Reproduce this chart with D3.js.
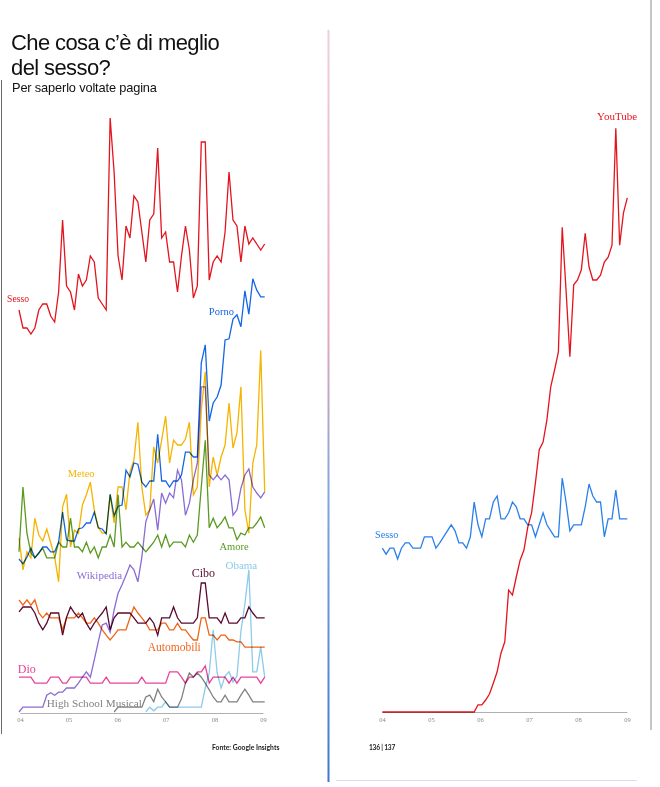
<!DOCTYPE html>
<html>
<head>
<meta charset="utf-8">
<script src="https://cdn.jsdelivr.net/npm/d3@7/dist/d3.min.js"></script>
<style>
    body { margin: 0; background: #fff; }
    svg { display: block; }
    .series { fill: none; stroke-width: 1.3; stroke-linejoin: miter; mix-blend-mode: multiply; }
    .label { font-family: "Liberation Serif", "DejaVu Serif", serif; }
    .axis text { font-family: "Liberation Serif", serif; font-size: 6.5px; fill: #8a8a8a; }
    .axis path { stroke: #b0b0b0; stroke-width: 1; }
</style>
</head>
<body>
<div id="chart"></div>
<script>
// Left page: monthly search interest, Jan 2004 - early 2009 (Google Insights, 0-100)
const sessoVals = [67,64,64,63,64,67,68,68,66,65,70,82,71,70,67,73,71,72,76,75,69,68,67,99,90,76,72,81,79,86,85,80,75,82,83,94,79,80,75,75,70,76,81,77,69,71,95,95,72,75,76,75,80,90,82,81,75,81,78,79,78,77,78];
const pornoVals = [25.5,24.7,25.8,27.3,25.7,26.5,27.5,27.5,26.7,26.7,28.3,33.3,28.7,28.5,28.5,30.5,30.7,31.5,31.5,33.3,30.7,30.5,29.7,36.3,32.7,34.3,34.5,40.3,39.2,41.5,41.3,38.3,37.5,38.5,38.5,46.3,38.5,38.5,37.5,38.5,38.5,39.5,43.3,43.3,42.5,42.5,58.2,61.2,48.5,51.5,52.5,54.5,62,62.2,65.5,66.2,64.2,70.2,66.3,72.2,70.3,69.2,69.2];
const meteoVals = [29,23.7,26.7,25.7,32.3,29.5,28.5,30.5,28.2,25.8,21.7,34.2,36.3,27.5,30.3,29.8,34.5,36.2,38.3,33.7,30.8,29.8,29.8,36.2,31.5,37.5,37.5,33.7,40,42,48.3,37.5,32.8,33.7,44.2,41.5,45.3,49.3,41.5,45.3,44.5,44.5,45.5,48.3,36.2,37.5,50.3,56.7,37.5,42.5,39.5,42.5,44.5,51.5,44,46.5,54.2,33.7,29.8,41.5,44.5,60.3,36.7];
const amoreVals = [26.7,37.5,29.8,26.5,25.7,26.5,27.3,25.7,25.7,25.7,28.3,27.5,27.5,32.3,27.5,27.5,26.7,28.3,26.5,27.5,25.7,27.5,27.5,29.5,27.5,36.2,27.5,28.3,27.5,27.5,28.3,27.5,26.7,27.5,28.3,29.5,27.5,29.5,27.5,28.3,28.3,28.3,27.5,29.5,28.3,29.5,37.5,45.3,30.7,32.3,30.7,31.5,32.5,30.7,30.7,28.7,29.8,29.5,30.7,30.7,31.5,32.5,30.7];
const wikiVals = [0,0.8,0.8,0.8,0.8,0.8,0.8,2.8,3.2,2.8,3.3,3.3,4,4,4,4.8,5.8,6.7,5.8,8.7,11.7,14.5,14.8,13.3,17,19.8,21.2,22.8,24.5,23.7,21.7,25.8,31.7,33.7,35.5,30.3,36.5,34.8,36.5,35.7,40.3,38.7,32.8,34.8,38.7,41.5,54.2,54.2,39.5,38.7,39.5,38.7,39.5,38.7,32.8,33.7,37.3,39.5,40.5,37.5,36.5,35.7,36.7];
const ciboVals = [16.7,17.5,17.5,17.5,16.5,14.8,13.7,14.8,16.5,16.5,16.5,12.8,15.8,17.5,16.5,15.7,16.5,14.8,13.7,14.8,15.7,16.5,17.5,13.7,15.7,16.5,16.5,16.5,16.5,15.7,14.8,14.8,14.8,15.7,14.8,12.8,15.7,15.7,15.7,17.5,15.7,14.8,14.8,14.8,14.8,15.7,21.5,21.5,15.7,15.7,15.7,14.8,16.5,14.8,14.8,14.8,15.7,15.7,17.5,16.5,15.7,15.7,15.7];
const autoVals = [18.7,17.8,18.7,17.8,18.7,16.5,15.7,16.5,15.7,15.7,15.7,13.7,15.7,15.7,15.7,16.5,15.7,14.8,14.8,15.7,14.8,13.7,12.8,12,12.8,13.7,13.7,13.7,15.7,17.5,16.5,15.7,14.8,13.7,13.7,13.7,14.8,14.8,13.7,13.7,14.8,13.7,13.7,12.8,12,12,15.7,15.7,12.8,12.8,12,12.8,12.8,12,12,11.7,11.7,10.8,10.8,10.8,10.8,10.8,10.8];
const dioVals = [5.8,5.8,5.8,5.8,4.8,4.8,4.8,4.8,5.8,5.8,5.8,4.8,4.8,5.8,5.8,5.8,5.8,5.8,4.8,4.8,4.8,4.8,5.8,4.8,4.8,4.8,4.8,4.8,4.8,4.8,4.8,5.8,4.8,4.8,4.8,4.8,4.8,4.8,6.7,6.7,6.7,5.8,4.8,5.8,5.8,6.7,6.7,7.7,4.8,5.8,5.8,5.8,5.8,4.8,5.8,4.8,5.8,5.8,5.8,5.8,5.8,4.8,5.8];
const hsmVals = [null,null,null,null,null,null,null,null,null,null,null,null,null,null,null,null,null,null,null,null,null,null,null,null,
    0,0.8,0.8,0.8,0.8,0.8,0.8,0.8,2.5,2.8,1.7,3.8,2.5,1.7,0.8,0.8,0.8,2.2,4.8,6.5,5.8,6.5,5.8,4.8,3.7,2.5,1.7,1.7,2.8,1.7,1.7,1.7,2.8,3.8,2.8,1.7,1.7,1.7,1.7];
const obamaVals = [null,null,null,null,null,null,null,null,null,null,null,null,null,null,null,null,null,null,null,null,null,null,null,null,null,null,null,null,null,null,null,null,
    0,0.8,0.2,0.8,0.8,1.7,0.8,0.8,0.8,0.8,0.8,0.8,0.8,0.8,0.8,4,6.5,13.7,6.5,4,6,6.7,5,6,13.5,18,23.7,6.7,6.7,10.8,5.8];

// Right page: YouTube vs Sesso
const ytSessoVals = [27.3,26.3,27.3,27.3,25.5,27.3,28.2,28.2,27.3,27.3,27.3,29.2,29.2,29.2,27.3,28.2,29.2,30.2,31.2,30.2,28.2,28.2,27.3,29.2,35,31.2,29.2,32.2,32.2,35,36,32.2,32.2,33.2,35,34.2,32.2,32.2,31.2,31.2,29.2,31.2,33.2,31.2,30.2,29.2,29.2,39,35,30.2,31.2,31.2,31.2,34.2,38,36,35,35,29.2,32.2,32.2,37,32.2,32.2,32.2];
const youtubeVals = [0,0,0,0,0,0,0,0,0,0,0,0,0,0,0,0,0,0,0,0,0,0,0,0,0,
    1.2,1.2,2,3,4.8,6.7,9.8,11.7,20.3,19.5,22.5,25.3,27,30.8,33.2,38.2,43.7,45,48.7,54.2,57,60,80.8,70.3,59.2,71.2,72,73.7,79.8,74.2,72,72,72.8,75,75.8,77.8,97.3,77.8,83.2,85.7];

// Year ticks
const years = [2004, 2005, 2006, 2007, 2008, 2009];
const yearLabels = ['04', '05', '06', '07', '08', '09'];

const W = 660, H = 787;

const svg = d3.select('#chart')
    .append('svg')
    .attr('width', W)
    .attr('height', H);

// Page scan details: spine, edges
const spineGrad = svg.append('defs').append('linearGradient')
    .attr('id', 'spine')
    .attr('x1', 0).attr('y1', 0).attr('x2', 0).attr('y2', 1);
spineGrad.append('stop').attr('offset', '0%').attr('stop-color', '#f0d0d8');
spineGrad.append('stop').attr('offset', '40%').attr('stop-color', '#e8a8b8');
spineGrad.append('stop').attr('offset', '62%').attr('stop-color', '#7fa6dc');
spineGrad.append('stop').attr('offset', '100%').attr('stop-color', '#3f78cc');

svg.append('rect')
    .attr('x', 327.5).attr('y', 30)
    .attr('width', 2).attr('height', 752)
    .attr('fill', 'url(#spine)');
svg.append('line')
    .attr('x1', 1.5).attr('x2', 1.5).attr('y1', 80).attr('y2', 734)
    .attr('stroke', '#6a6a6a').attr('stroke-width', 1);
svg.append('line')
    .attr('x1', 651).attr('x2', 651).attr('y1', 0).attr('y2', 730)
    .attr('stroke', '#8a8a8a').attr('stroke-width', 1);
svg.append('line')
    .attr('x1', 336).attr('x2', 637).attr('y1', 780.5).attr('y2', 780.5)
    .attr('stroke', '#dcdcf0').attr('stroke-width', 1.2);

// Title block, tight leading like the print layout
const sans = '"Liberation Sans", Arial, sans-serif';
svg.append('text')
    .attr('x', 11).attr('y', 50)
    .style('font-family', sans).style('font-size', '22px').style('fill', '#111')
    .style('letter-spacing', '-0.6px')
    .text('Che cosa c\u2019\u00e8 di meglio');
svg.append('text')
    .attr('x', 11).attr('y', 75)
    .style('font-family', sans).style('font-size', '22px').style('fill', '#111')
    .style('letter-spacing', '-0.6px')
    .text('del sesso?');
svg.append('text')
    .attr('x', 12).attr('y', 92)
    .style('font-family', sans).style('font-size', '12.8px').style('fill', '#111')
    .style('letter-spacing', '-0.15px')
    .text('Per saperlo voltate pagina');

svg.append('text')
    .attr('x', 212).attr('y', 750)
    .style('font-family', 'Lato, sans-serif').style('font-size', '6.8px').style('font-weight', 700).style('fill', '#222')
    .text('Fonte: Google Insights');
svg.append('text')
    .attr('x', 369).attr('y', 750)
    .style('font-family', 'Lato, sans-serif').style('font-size', '6.6px').style('font-weight', 700).style('fill', '#222')
    .style('letter-spacing', '-0.2px')
    .text('136 | 137');

// Shared value scale
const yVal = d3.scaleLinear().domain([0, 100]).range([712, 112]);

// ---------- Left chart ----------
const xLeft = d3.scaleLinear().domain([0, sessoVals.length - 1]).range([19, 264.7]);
const yearLeft = d3.scaleLinear().domain([2004, 2009]).range([20, 263]);

svg.append('g')
    .attr('class', 'axis')
    .attr('transform', `translate(0,${yVal(0) + 1})`)
    .call(d3.axisBottom(yearLeft)
        .tickValues(years)
        .tickFormat((d, i) => yearLabels[i])
        .tickSize(0)
        .tickPadding(4))
    .call(g => g.selectAll('.tick line').remove());

const leftSeries = [
    { name: 'Sesso', values: sessoVals, color: '#e3141e', lx: -3, ly: 68.3, size: 9.6 },
    { name: 'Porno', values: pornoVals, color: '#1565e6', lx: 47.9, ly: 66.2, size: 10.5 },
    { name: 'Meteo', values: meteoVals, color: '#f4b400', lx: 12.3, ly: 39.2, size: 10.5 },
    { name: 'Amore', values: amoreVals, color: '#5b9a22', lx: 50.6, ly: 27, size: 10.5 },
    { name: 'Wikipedia', values: wikiVals, color: '#8a6cd4', lx: 14.6, ly: 22.2, size: 11 },
    { name: 'Cibo', values: ciboVals, color: '#5a0a30', lx: 43.6, ly: 22.5, size: 12 },
    { name: 'Obama', values: obamaVals, color: '#8ccbea', lx: 52.1, ly: 23.8, size: 11 },
    { name: 'Automobili', values: autoVals, color: '#f0641a', lx: 32.5, ly: 10.2, size: 11.5 },
    { name: 'Dio', values: dioVals, color: '#e6449a', lx: -0.3, ly: 6.5, size: 12 },
    { name: 'High School Musical', values: hsmVals, color: '#808080', lx: 7, ly: 0.9, size: 11.2 }
];

const lineLeft = d3.line()
    .defined(d => d != null)
    .x((d, i) => xLeft(i))
    .y(d => yVal(d));

svg.append('g')
    .selectAll('path')
    .data(leftSeries)
    .enter()
    .append('path')
    .attr('class', 'series')
    .attr('stroke', d => d.color)
    .attr('d', d => lineLeft(d.values));

svg.append('g')
    .selectAll('text')
    .data(leftSeries)
    .enter()
    .append('text')
    .attr('class', 'label')
    .attr('x', d => xLeft(d.lx))
    .attr('y', d => yVal(d.ly))
    .style('font-size', d => d.size + 'px')
    .style('fill', d => d.color)
    .text(d => d.name);

// ---------- Right chart ----------
const xRight = d3.scaleLinear().domain([0, youtubeVals.length - 1]).range([382.3, 627.3]);
const yearRight = d3.scaleLinear().domain([2004, 2009]).range([382, 627]);

svg.append('g')
    .attr('class', 'axis')
    .attr('transform', `translate(0,${yVal(0)})`)
    .call(d3.axisBottom(yearRight)
        .tickValues(years)
        .tickFormat((d, i) => yearLabels[i])
        .tickSize(0)
        .tickPadding(5))
    .call(g => g.selectAll('.tick line').remove());

const rightSeries = [
    { name: 'Sesso', values: ytSessoVals, color: '#2a80ea', lx: -1.9, ly: 29, size: 10.2 },
    { name: 'YouTube', values: youtubeVals, color: '#e5141c', lx: 56.1, ly: 98.6, size: 11 }
];

const lineRight = d3.line()
    .x((d, i) => xRight(i))
    .y(d => yVal(d));

svg.append('g')
    .selectAll('path')
    .data(rightSeries)
    .enter()
    .append('path')
    .attr('class', 'series')
    .attr('stroke', d => d.color)
    .attr('d', d => lineRight(d.values));

svg.append('g')
    .selectAll('text')
    .data(rightSeries)
    .enter()
    .append('text')
    .attr('class', 'label')
    .attr('x', d => xRight(d.lx))
    .attr('y', d => yVal(d.ly))
    .style('font-size', d => d.size + 'px')
    .style('fill', d => d.color)
    .text(d => d.name);
</script>
</body>
</html>
